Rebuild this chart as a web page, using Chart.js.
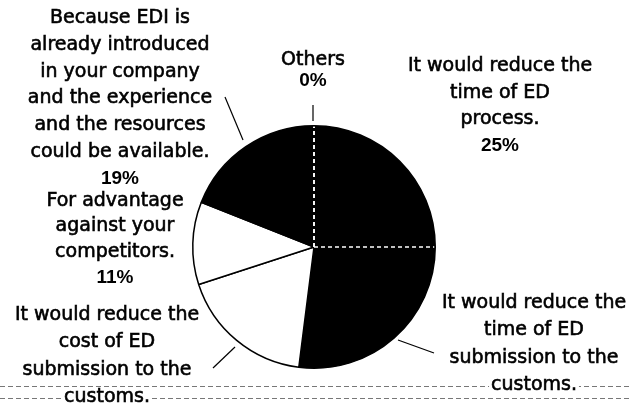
<!DOCTYPE html>
<html>
<head>
<meta charset="utf-8">
<script src="https://cdn.jsdelivr.net/npm/chart.js@4"></script>
<style>
  html, body { margin: 0; padding: 0; background: #fff; }
  #wrap { width: 631px; height: 403px; position: relative; }
</style>
</head>
<body>
<div id="wrap"><canvas id="myChart"></canvas></div>
<script>
// Slices clockwise from 12 o'clock
const categories = [
  'Others',
  'It would reduce the time of ED process.',
  'It would reduce the time of ED submission to the customs.',
  'It would reduce the cost of ED submission to the customs.',
  'For advantage against your competitors.',
  'Because EDI is already introduced in your company and the experience and the resources could be available.'
];
const shares = [0, 25, 27, 18, 11, 19];

// Label text as printed (line broken)
const labelLines = [
  ['Others'],
  ['It would reduce the', 'time of ED', 'process.'],
  ['It would reduce the', 'time of ED', 'submission to the', 'customs.'],
  ['It would reduce the', 'cost of ED', 'submission to the', 'customs.'],
  ['For advantage', 'against your', 'competitors.'],
  ['Because EDI is', 'already introduced', 'in your company', 'and the experience', 'and the resources', 'could be available.']
];

const fills = ['#000', '#000', '#000', '#fff', '#fff', '#000'];

// where each label block sits (x centre, first line y, line step)
const labelPos = [
  { x: 313, y: 60, step: 21 },
  { x: 500, y: 66, step: 26.7 },
  { x: 534, y: 303, step: 27.3 },
  { x: 107, y: 315, step: 27.3 },
  { x: 115, y: 201, step: 25.5 },
  { x: 120, y: 18, step: 26.8 }
];

// short leader strokes from labels to the pie
const leaders = [
  [313, 105, 313, 121],
  [225, 97, 243, 140],
  [213, 368, 235, 347],
  [398, 340, 434, 353]
];

const pieDecor = {
  id: 'pieDecor',
  afterDatasetsDraw(chart) {
    const ctx = chart.ctx;
    const arcs = chart.getDatasetMeta(0).data;
    // dashed white seams between neighbouring black slices
    ctx.save();
    ctx.strokeStyle = '#fff';
    ctx.lineWidth = 1.6;
    ctx.setLineDash([4, 3]);
    for (let i = 0; i < arcs.length; i++) {
      const prev = (i - 1 + arcs.length) % arcs.length;
      if (fills[i] === '#000' && fills[prev] === '#000') {
        const a = arcs[i];
        const r = a.outerRadius - 1;
        ctx.beginPath();
        ctx.moveTo(a.x, a.y);
        ctx.lineTo(a.x + r * Math.cos(a.startAngle), a.y + r * Math.sin(a.startAngle));
        ctx.stroke();
      }
    }
    ctx.restore();
  },
  afterDraw(chart) {
    const ctx = chart.ctx;
    ctx.save();
    // faint scan lines near the bottom
    ctx.strokeStyle = '#777';
    ctx.lineWidth = 1;
    ctx.setLineDash([5, 3]);
    [386.5, 398.5].forEach(y => {
      ctx.beginPath();
      ctx.moveTo(0, y);
      ctx.lineTo(631, y);
      ctx.stroke();
    });
    ctx.setLineDash([]);
    ctx.strokeStyle = '#000';
    ctx.lineWidth = 1.2;
    leaders.forEach(l => {
      ctx.beginPath();
      ctx.moveTo(l[0], l[1]);
      ctx.lineTo(l[2], l[3]);
      ctx.stroke();
    });
    // labels
    ctx.textAlign = 'center';
    ctx.textBaseline = 'middle';
    ctx.lineWidth = 0.6;
    ctx.strokeStyle = '#000';
    labelLines.forEach((lines, i) => {
      const p = labelPos[i];
      ctx.font = '19px "DejaVu Sans"';
      lines.forEach((t, k) => {
        const y = p.y + k * p.step;
        const w = ctx.measureText(t).width;
        if (y > 380) {
          ctx.fillStyle = '#fff';
          ctx.fillRect(p.x - w / 2 - 2, y - 8, w + 4, 16);
        }
        ctx.fillStyle = '#000';
        ctx.fillText(t, p.x, y);
        ctx.strokeText(t, p.x, y);
      });
      ctx.font = 'bold 19px "Liberation Sans"';
      ctx.fillText(shares[i] + '%', p.x, p.y + lines.length * p.step);
    });
    ctx.restore();
  }
};

new Chart(document.getElementById('myChart'), {
  type: 'pie',
  data: {
    labels: categories,
    datasets: [{
      data: shares,
      backgroundColor: fills,
      borderColor: '#000',
      borderWidth: 1.5
    }]
  },
  options: {
    responsive: true,
    maintainAspectRatio: false,
    animation: false,
    layout: { padding: { left: 192, right: 195, top: 124, bottom: 33 } },
    plugins: {
      legend: { display: false },
      tooltip: { enabled: false }
    }
  },
  plugins: [pieDecor]
});
</script>
</body>
</html>
